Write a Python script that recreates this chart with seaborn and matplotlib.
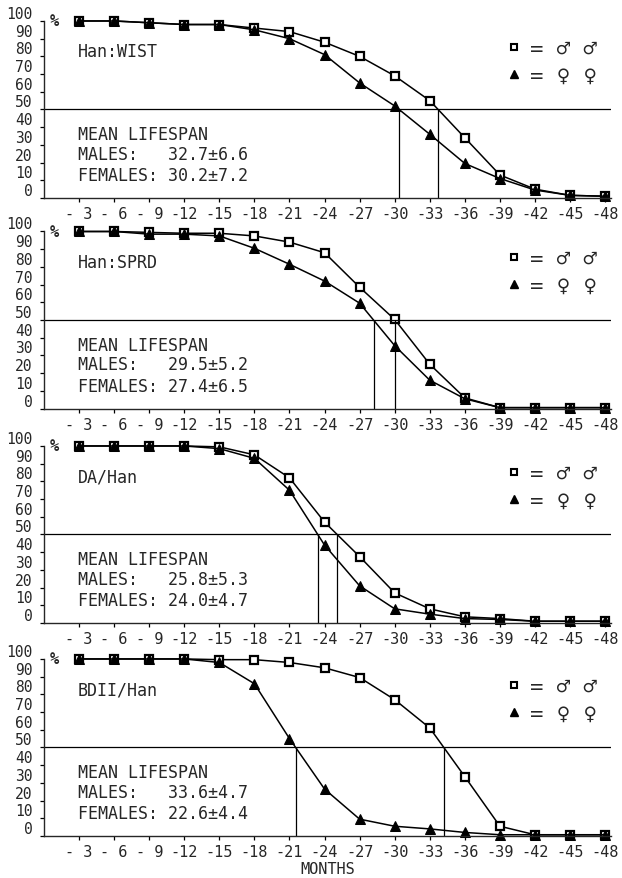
import numpy as np
import matplotlib
matplotlib.use("Agg")
import matplotlib.pyplot as plt
from matplotlib.lines import Line2D
import seaborn as sns

# survival (%), months 3..48
months = [3, 6, 9, 12, 15, 18, 21, 24, 27, 30, 33, 36, 39, 42, 45, 48]
month_labels = ["- 3", "- 6", "- 9", "-12", "-15", "-18", "-21", "-24",
                "-27", "-30", "-33", "-36", "-39", "-42", "-45", "-48"]

strains = ["Han:WIST", "Han:SPRD", "DA/Han", "BDII/Han"]

males = [
    [100, 100, 99, 98, 98, 96, 94, 88, 80, 69, 55, 34, 13, 5, 1.5, 1],
    [100, 100, 99.5, 99, 99, 97.5, 94, 88, 68.5, 50.3, 25, 6, 0.5, 0.5, 0.5, 0.5],
    [100, 100, 100, 100, 99.5, 95, 82, 57, 37.5, 17, 8, 3.5, 2.5, 1, 1, 1],
    [100, 100, 100, 100, 99.6, 99.6, 98, 95, 89.5, 77, 61, 33.5, 5.5, 0.7, 0.7, 0.7],
]
females = [
    [100, 100, 99, 98, 98, 95, 90, 81, 65, 52, 36, 19.5, 11, 4.5, 1.5, 1],
    [100, 100, 98.5, 98.5, 97.5, 90.5, 81.5, 72, 59.5, 35.5, 16, 5.5, 0.5, 0.5, 0.5, 0.5],
    [100, 100, 100, 100, 98.5, 93, 75, 44, 21, 8, 5, 2.5, 2, 1, 1, 1],
    [100, 100, 100, 100, 98, 86, 55, 26.5, 9.5, 5.5, 4, 2, 0.7, 0.7, 0.7, 0.7],
]
male_means = ["32.7±6.6", "29.5±5.2", "25.8±5.3", "33.6±4.7"]
female_means = ["30.2±7.2", "27.4±6.5", "24.0±4.7", "22.6±4.4"]

sns.set_theme(style="ticks")
plt.rcParams["font.family"] = ["DejaVu Sans Mono", "DejaVu Sans"]
plt.rcParams["axes.linewidth"] = 1.0

fig = plt.figure(figsize=(6.22, 8.79), dpi=100)
bottoms = [0.7736, 0.5341, 0.2901, 0.0478]


def crossing(vals, level=50):
    # month where the curve drops through 50 %
    return np.interp(level, np.array(vals)[::-1], np.array(months)[::-1])


for i, name in enumerate(strains):
    ax = fig.add_axes([0.0707, bottoms[i], 0.9116, 0.2014])
    ax.set_facecolor("white")

    sns.lineplot(x=months, y=males[i], ax=ax, color="black", lw=1.1,
                 marker="s", markersize=6, markerfacecolor="white",
                 markeredgecolor="black", markeredgewidth=1.6, clip_on=False)
    sns.lineplot(x=months, y=females[i], ax=ax, color="black", lw=1.1,
                 marker="^", markersize=7, markerfacecolor="black",
                 markeredgecolor="black", clip_on=False)

    ax.axhline(50, color="black", lw=0.9)
    ax.vlines([crossing(males[i]), crossing(females[i])], 0, 50,
              color="black", lw=0.9)

    ax.set_xlim(0, 48.5)
    ax.set_ylim(0, 100)
    ax.set_xticks(months)
    ax.set_xticklabels(month_labels, fontsize=11)
    ax.set_yticks(range(0, 101, 10))
    ax.set_yticklabels([str(v) for v in range(0, 101, 10)], fontsize=10.5)
    for lab in ax.get_yticklabels():
        lab.set_va("bottom")
    ax.tick_params(axis="both", length=3, width=0.9, color="black")
    ax.tick_params(axis="y", pad=5)
    ax.tick_params(axis="x", pad=3)
    sns.despine(ax=ax)

    ax.text(0.01, 1.0, "%", transform=ax.transAxes, fontsize=11,
            fontweight="bold", va="center", ha="left")
    ytr = ax.get_yaxis_transform()
    ax.text(0.06, 83, name, fontsize=12, va="center", ha="left", transform=ytr)
    ax.text(0.06, 36, "MEAN LIFESPAN", fontsize=12, va="center", transform=ytr)
    ax.text(0.06, 25, "MALES:   " + male_means[i], fontsize=12, va="center",
            transform=ytr)
    ax.text(0.06, 13, "FEMALES: " + female_means[i], fontsize=12, va="center",
            transform=ytr)

    handles = [
        Line2D([], [], ls="none", marker="s", markersize=5,
               markerfacecolor="white", markeredgecolor="black",
               markeredgewidth=1.5),
        Line2D([], [], ls="none", marker="^", markersize=6,
               markerfacecolor="black", markeredgecolor="black"),
    ]
    ax.legend(handles, ["= ♂ ♂", "= ♀ ♀"], frameon=False, fontsize=16,
              loc="upper right", bbox_to_anchor=(0.99, 0.95),
              borderaxespad=0, handlelength=0.8, handletextpad=0.3,
              labelspacing=0.3)

    if i == 3:
        ax.set_xlabel("MONTHS", fontsize=11, labelpad=1)

fig.savefig("out.png", dpi=100, facecolor="white")
